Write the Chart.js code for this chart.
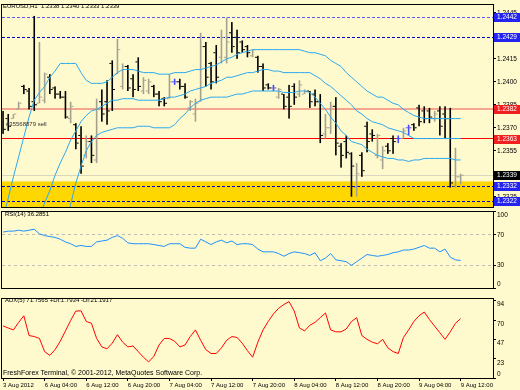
<!DOCTYPE html>
<html>
<head>
<meta charset="utf-8">
<script src="https://cdn.jsdelivr.net/npm/chart.js@4.4.0/dist/chart.umd.min.js"></script>
<style>
  html, body { margin: 0; padding: 0; background: #FFFACD; }
  #wrap { position: relative; width: 520px; height: 390px; overflow: hidden; background: #FFFACD; }
  canvas { position: absolute; left: 0; }
  .cap { position: absolute; font-family: "Liberation Sans", Arial, sans-serif; color: #000; white-space: pre; line-height: 1; }
</style>
</head>
<body>
<div id="wrap">
  <canvas id="cPrice" width="520" height="212" style="top:0"></canvas>
  <canvas id="cRsi" width="520" height="94" style="top:203px"></canvas>
  <canvas id="cAdx" width="520" height="100" style="top:290px"></canvas>
  <div class="cap" style="left:3px;top:3px;font-size:6px">EURUSD,H1  1.2338 1.2340 1.2333 1.2339</div>
  <div class="cap" style="left:6px;top:121px;font-size:6px;color:#333">#35568879 sell</div>
  <div class="cap" style="left:5px;top:211px;font-size:6px">RSI(14) 36.2851</div>
  <div class="cap" style="left:5px;top:297px;font-size:6px">ADX(5) 71.7565 +DI:1.7934 -DI:21.1917</div>
  <div class="cap" style="left:3px;top:369px;font-size:7px">FreshForex Terminal, © 2001-2012, MetaQuotes Software Corp.</div>
</div>
<script>
// H1 bars, 3 Aug 20:00 -> 9 Aug 12:00
const timeLabels = ['3 Aug 2012', '6 Aug 04:00', '6 Aug 12:00', '6 Aug 20:00', '7 Aug 04:00', '7 Aug 12:00',
  '7 Aug 20:00', '8 Aug 04:00', '8 Aug 12:00', '8 Aug 20:00', '9 Aug 04:00', '9 Aug 12:00'];
const timeIdx = [0, 8, 16, 24, 32, 40, 48, 56, 64, 72, 80, 88];

const opens = [1.2379,1.2376,1.2376,1.2382,1.2397,1.2394,1.2387,1.2386,1.2388,1.2403,
  1.2396,1.2392,1.2390,1.2376,1.2372,1.2365,1.2352,1.2361,1.2349,1.2387,
  1.2387,1.2412,1.2405,1.2397,1.2410,1.2402,1.2413,1.2394,1.2394,1.2397,
  1.2392,1.2389,1.2389,1.2400,1.2400,1.2397,1.2383,1.2379,1.2387,1.2423,
  1.2412,1.2419,1.2416,1.2416,1.2432,1.2429,1.2426,1.2423,1.2417,1.2416,
  1.2410,1.2398,1.2396,1.2390,1.2392,1.2390,1.2397,1.2392,1.2392,1.2394,
  1.2392,1.2387,1.2366,1.2370,1.2384,1.2358,1.2361,1.2353,1.2331,1.2352,
  1.2371,1.2366,1.2352,1.2349,1.2358,1.2363,1.2363,1.2363,1.2370,1.2372,
  1.2383,1.2381,1.2381,1.2376,1.2381,1.2379,1.2376,1.2332,1.2338];
const highs = [1.2381,1.2379,1.2379,1.2387,1.2398,1.2396,1.2443,1.2426,1.2406,1.2405,
  1.2397,1.2394,1.2394,1.2387,1.2373,1.2371,1.2365,1.2365,1.2389,1.2395,
  1.2401,1.2414,1.2428,1.2412,1.2411,1.2405,1.2416,1.2403,1.2402,1.2398,
  1.2394,1.2390,1.2405,1.2402,1.2402,1.2399,1.2388,1.2389,1.2432,1.2426,
  1.2413,1.2424,1.2434,1.2442,1.2439,1.2434,1.2427,1.2424,1.2421,1.2417,
  1.2412,1.2399,1.2398,1.2396,1.2392,1.2398,1.2399,1.2401,1.2395,1.2394,
  1.2395,1.2392,1.2379,1.2387,1.2390,1.2360,1.2365,1.2354,1.2347,1.2354,
  1.2374,1.2369,1.2366,1.2358,1.2360,1.2365,1.2365,1.2370,1.2372,1.2373,
  1.2385,1.2384,1.2383,1.2381,1.2384,1.2384,1.2383,1.2357,1.2340];
const lows = [1.2366,1.2368,1.2376,1.2382,1.2392,1.2382,1.2381,1.2386,1.2386,1.2392,
  1.2389,1.2389,1.2376,1.2373,1.2356,1.2340,1.2350,1.2347,1.2347,1.2374,
  1.2372,1.2381,1.2405,1.2395,1.2394,1.2390,1.2394,1.2392,1.2392,1.2390,
  1.2384,1.2384,1.2389,1.2398,1.2395,1.2389,1.2381,1.2374,1.2387,1.2397,
  1.2395,1.2399,1.2412,1.2412,1.2419,1.2415,1.2419,1.2416,1.2416,1.2406,
  1.2394,1.2395,1.2394,1.2389,1.2382,1.2376,1.2385,1.2390,1.2392,1.2383,
  1.2384,1.2360,1.2363,1.2366,1.2352,1.2344,1.2350,1.2325,1.2325,1.2338,
  1.2354,1.2361,1.2350,1.2343,1.2353,1.2353,1.2360,1.2363,1.2365,1.2368,
  1.2371,1.2373,1.2373,1.2374,1.2365,1.2363,1.2331,1.2331,1.2333];
const closes = [1.2369,1.2371,1.2379,1.2386,1.2395,1.2384,1.2385,1.2390,1.2405,1.2395,
  1.2392,1.2390,1.2377,1.2384,1.2360,1.2345,1.2361,1.2352,1.2382,1.2379,
  1.2381,1.2395,1.2421,1.2410,1.2396,1.2395,1.2397,1.2401,1.2400,1.2392,
  1.2387,1.2386,1.2400,1.2400,1.2397,1.2390,1.2387,1.2386,1.2423,1.2403,
  1.2400,1.2403,1.2429,1.2426,1.2423,1.2419,1.2421,1.2419,1.2421,1.2410,
  1.2396,1.2396,1.2396,1.2395,1.2384,1.2384,1.2390,1.2398,1.2394,1.2387,
  1.2387,1.2365,1.2370,1.2384,1.2360,1.2352,1.2354,1.2345,1.2340,1.2342,
  1.2361,1.2365,1.2365,1.2355,1.2355,1.2361,1.2363,1.2368,1.2370,1.2370,
  1.2374,1.2376,1.2377,1.2379,1.2371,1.2376,1.2334,1.2338,1.2339];

// bollinger bands
const bbUpper = [1.2311,1.2324,1.2338,1.2351,1.2364,1.2377,1.2388,1.2393,1.2397,1.2403,
  1.2407,1.2412,1.2412,1.2412,1.2412,1.2406,1.2401,1.2399,1.2399,1.2399,
  1.2400,1.2403,1.2406,1.2408,1.2408,1.2408,1.2407,1.2406,1.2406,1.2406,
  1.2405,1.2405,1.2405,1.2406,1.2406,1.2406,1.2407,1.2408,1.2408,1.2409,
  1.2410,1.2411,1.2413,1.2415,1.2416,1.2418,1.2419,1.2420,1.2421,1.2421,
  1.2421,1.2421,1.2421,1.2421,1.2421,1.2421,1.2421,1.2421,1.2420,1.2419,
  1.2419,1.2418,1.2417,1.2414,1.2412,1.2410,1.2406,1.2403,1.2400,1.2397,
  1.2394,1.2392,1.2390,1.2390,1.2388,1.2386,1.2385,1.2382,1.2380,1.2378,
  1.2377,1.2376,1.2376,1.2376,1.2376,1.2376,1.2376,1.2376,1.2376];
const bbMiddle = [null,null,null,null,null,null,null,1.2312,1.2321,1.2329,
  1.2339,1.2347,1.2354,1.2362,1.2368,1.2374,1.2378,1.2381,1.2382,1.2384,
  1.2386,1.2388,1.2388,1.2389,1.2389,1.2389,1.2388,1.2388,1.2388,1.2388,
  1.2388,1.2389,1.2390,1.2390,1.2391,1.2392,1.2394,1.2395,1.2396,1.2397,
  1.2399,1.2400,1.2401,1.2403,1.2403,1.2404,1.2405,1.2406,1.2406,1.2407,
  1.2408,1.2408,1.2407,1.2407,1.2406,1.2406,1.2406,1.2406,1.2406,1.2406,
  1.2404,1.2402,1.2399,1.2397,1.2394,1.2391,1.2388,1.2385,1.2381,1.2379,
  1.2376,1.2374,1.2373,1.2372,1.2370,1.2369,1.2368,1.2367,1.2365,1.2363,
  1.2363,1.2363,1.2363,1.2363,1.2363,1.2363,1.2363,1.2363,1.2363];
const bbLower = [null,null,null,null,null,null,null,null,null,null,
  null,null,1.2305,1.2320,1.2334,1.2345,1.2355,1.2361,1.2365,1.2367,
  1.2368,1.2369,1.2370,1.2370,1.2370,1.2370,1.2371,1.2371,1.2371,1.2370,
  1.2370,1.2370,1.2370,1.2372,1.2376,1.2379,1.2383,1.2386,1.2388,1.2389,
  1.2390,1.2390,1.2390,1.2390,1.2391,1.2392,1.2392,1.2393,1.2394,1.2394,
  1.2394,1.2394,1.2394,1.2394,1.2393,1.2393,1.2393,1.2394,1.2394,1.2393,
  1.2390,1.2386,1.2382,1.2377,1.2373,1.2368,1.2365,1.2361,1.2360,1.2359,
  1.2356,1.2354,1.2352,1.2351,1.2350,1.2350,1.2349,1.2349,1.2348,1.2349,
  1.2349,1.2350,1.2350,1.2350,1.2350,1.2350,1.2350,1.2349,1.2349];

const rsi = [73.5,74.7,74.7,75.9,74.7,75.9,77.1,71.2,68.8,67.6,
  66.5,64.1,60.6,58.2,54.7,55.9,54.7,54.7,60.6,61.8,
  62.9,66.5,68.8,65.3,59.4,58.2,58.2,58.2,58.2,57.1,
  55.9,54.7,58.2,58.2,58.2,53.5,52.4,52.4,64.1,60.6,
  57.1,60.6,62.9,59.4,61.8,57.1,58.2,58.2,57.1,51.2,
  47.6,47.6,47.6,45.3,41.8,45.3,47.6,46.5,45.3,42.9,
  46.5,35.9,39.4,45.3,37.1,35.9,34.7,30.0,34.7,39.4,
  44.1,42.9,41.8,42.9,44.1,46.5,47.6,50.0,50.0,51.2,
  53.5,55.9,52.4,52.4,47.6,51.2,40.6,37.1,36.29];

const adx = [63.0,60.4,58.1,67.2,75.2,51.3,50.1,47.8,31.9,27.3,
  34.2,44.4,56.9,69.5,80.9,81.2,68.3,66.1,47.8,37.6,
  35.3,42.1,52.4,43.3,37.6,38.7,31.9,25.1,19.4,26.2,
  39.9,47.8,47.8,44.4,37.6,39.9,50.1,58.1,45.6,34.2,
  29.6,29.6,36.4,45.6,50.1,49.0,42.1,33.0,25.1,43.3,
  58.1,68.3,77.4,84.3,88.8,92.3,80.9,60.4,56.9,63.8,
  67.2,72.9,78.6,58.1,55.8,55.8,59.2,68.3,72.9,51.3,
  46.7,43.3,41.3,46.7,36.4,31.9,29.6,49.0,58.1,68.3,
  75.2,79.7,70.6,62.6,54.7,46.7,55.8,66.1,71.76];

const priceTicks = [1.2325, 1.2340, 1.2355, 1.2370, 1.2385, 1.2400, 1.2415, 1.2430, 1.2445];
const rsiTicks = [100, 70, 30, 0];
const rsiLevels = [70, 30];
const adxTicks = [94, 70, 47, 23, 0];

// objects on the price chart
const blueLevels = [1.2442, 1.2429, 1.2332, 1.2322];
const orderLevel = 1.2382;
const redLevel = 1.2363;
const bidLevel = 1.2339;
const zone = [1.2310, 1.2335];

const X_MIN = -0.2, X_MAX = 94.22;

Chart.defaults.font.family = '"Liberation Sans", Arial, sans-serif';
Chart.defaults.color = '#000';

const pts = arr => arr.map((v, i) => ({ x: i, y: v }));

function xAxis(show) {
  const ax = {
    type: 'linear', min: X_MIN, max: X_MAX, display: show,
    grid: { drawOnChartArea: false, tickLength: 3, color: '#000' },
    border: { display: false }
  };
  if (show) {
    ax.afterBuildTicks = s => { s.ticks = timeIdx.map(v => ({ value: v })); };
    ax.afterFit = s => { s.height = 12; };
    ax.ticks = { autoSkip: false, maxRotation: 0, align: 'start', padding: 1, font: { size: 6 },
      callback: (v, i) => timeLabels[i] };
  }
  return ax;
}

function yAxis(min, max, ticks, cb) {
  return {
    position: 'right', min: min, max: max,
    afterBuildTicks: s => { s.ticks = ticks.map(v => ({ value: v })); },
    afterFit: s => { s.width = 27; },
    ticks: { padding: 1, font: { size: 6.5 }, callback: cb },
    grid: { drawOnChartArea: false, tickLength: 3, color: '#000' },
    border: { display: false }
  };
}

const framePlugin = {
  id: 'frame',
  afterDraw(chart) {
    const { ctx, chartArea: a } = chart;
    ctx.save();
    ctx.fillStyle = '#000';
    const l = Math.round(a.left) - 1, t = Math.round(a.top) - 1;
    const r = Math.round(a.right), b = Math.round(a.bottom);
    ctx.fillRect(l, t, r - l + 1, 1);
    ctx.fillRect(l, b, r - l + 1, 1);
    ctx.fillRect(l, t, 1, b - t + 1);
    ctx.fillRect(r, t, 1, b - t + 1);
    ctx.restore();
  }
};

// solid or dashed horizontal line built from filled pixels
function hline(ctx, a, y, color, h, dash) {
  const top = Math.round(y - h / 2);
  ctx.fillStyle = color;
  if (!dash) {
    ctx.fillRect(a.left, top, a.right - a.left, h);
    return;
  }
  for (let x = a.left; x < a.right; x += dash[0] + dash[1]) {
    ctx.fillRect(x, top, Math.min(dash[0], a.right - x), h);
  }
}

const priceDecor = {
  id: 'priceDecor',
  beforeDatasetsDraw(chart) {
    const { ctx, chartArea: a, scales: { x, y } } = chart;
    ctx.save();
    ctx.beginPath();
    ctx.rect(a.left, a.top, a.right - a.left, a.bottom - a.top);
    ctx.clip();

    const zt = y.getPixelForValue(zone[1]), zb = y.getPixelForValue(zone[0]);
    ctx.fillStyle = '#FFD700';
    ctx.fillRect(a.left, zt, a.right - a.left, zb - zt);

    hline(ctx, a, y.getPixelForValue(bidLevel), 'rgba(190,190,180,0.6)', 1);
    hline(ctx, a, y.getPixelForValue(orderLevel), '#F4A690', 2);
    hline(ctx, a, y.getPixelForValue(redLevel), '#FF0000', 1);
    blueLevels.forEach((lv, k) => {
      hline(ctx, a, y.getPixelForValue(lv), k === 0 ? '#5A5AFF' : '#0000CC', 1, [3, 2]);
    });

    // OHLC bars
    for (let i = 0; i < opens.length; i++) {
      const px = x.getPixelForValue(i);
      const yo = y.getPixelForValue(opens[i]), yc = y.getPixelForValue(closes[i]);
      const yh = y.getPixelForValue(highs[i]), yl = y.getPixelForValue(lows[i]);
      ctx.fillStyle = closes[i] > opens[i] ? '#A4A28E' : (closes[i] < opens[i] ? '#000' : '#4A4AFF');
      ctx.fillRect(px - 0.8, yh, 1.6, Math.max(yl - yh, 1));
      ctx.fillRect(px - 2.8, yo - 0.5, 2, 1);
      ctx.fillRect(px + 0.8, yc - 0.5, 2, 1);
    }
    ctx.restore();
  },
  afterDraw(chart) {
    const { ctx, scales: { y } } = chart;
    const boxes = [[blueLevels[0], '#2424F0'], [blueLevels[1], '#2424F0'], [orderLevel, '#F02020'],
      [redLevel, '#F02020'], [bidLevel, '#000'], [blueLevels[2], '#2424F0'], [blueLevels[3], '#2424F0']];
    ctx.save();
    ctx.font = '6.5px "Liberation Sans", Arial, sans-serif';
    ctx.textBaseline = 'middle';
    boxes.forEach(([lv, col]) => {
      const py = Math.round(y.getPixelForValue(lv));
      ctx.fillStyle = col;
      ctx.fillRect(494, py - 4, 26, 9);
      ctx.fillStyle = '#fff';
      ctx.fillText(lv.toFixed(4), 497, py + 0.5);
    });
    ctx.restore();
  }
};

const rsiDecor = {
  id: 'rsiDecor',
  beforeDatasetsDraw(chart) {
    const { ctx, chartArea: a, scales: { y } } = chart;
    ctx.save();
    rsiLevels.forEach(lv => hline(ctx, a, y.getPixelForValue(lv), '#BEBEB4', 1, [3, 3]));
    ctx.restore();
  }
};

const common = {
  responsive: false,
  animation: false,
  events: [],
  plugins: { legend: { display: false }, tooltip: { enabled: false } },
  elements: { point: { radius: 0 }, line: { borderWidth: 1, tension: 0 } }
};

const bandColor = '#2AA8F0';

new Chart(document.getElementById('cPrice'), {
  type: 'line',
  data: {
    datasets: [
      { data: pts(bbUpper), borderColor: bandColor },
      { data: pts(bbMiddle), borderColor: bandColor },
      { data: pts(bbLower), borderColor: bandColor }
    ]
  },
  options: Object.assign({}, common, {
    layout: { autoPadding: false, padding: { left: 2, top: 2, bottom: 5, right: 0 } },
    scales: {
      x: xAxis(false),
      y: yAxis(1.23183, 1.24502, priceTicks, v => v.toFixed(4))
    }
  }),
  plugins: [priceDecor, framePlugin]
});

new Chart(document.getElementById('cRsi'), {
  type: 'line',
  data: { datasets: [{ data: pts(rsi), borderColor: '#1E90FF' }] },
  options: Object.assign({}, common, {
    layout: { autoPadding: false, padding: { left: 2, top: 4.5, bottom: 4.5, right: 0 } },
    scales: {
      x: xAxis(false),
      y: yAxis(0, 100, rsiTicks, v => v === 100 ? ['', '100'] : (v === 0 ? ['0', ''] : String(v)))
    }
  }),
  plugins: [rsiDecor, framePlugin]
});

new Chart(document.getElementById('cAdx'), {
  type: 'line',
  data: { datasets: [{ data: pts(adx), borderColor: '#FF0000' }] },
  options: Object.assign({}, common, {
    layout: { autoPadding: false, padding: { left: 2, top: 4, bottom: 0, right: 0 } },
    scales: {
      x: xAxis(true),
      y: yAxis(0, 95.7, adxTicks, v => v === 0 ? ['0', ''] : ['', String(v)])
    }
  }),
  plugins: [framePlugin]
});
</script>
</body>
</html>
